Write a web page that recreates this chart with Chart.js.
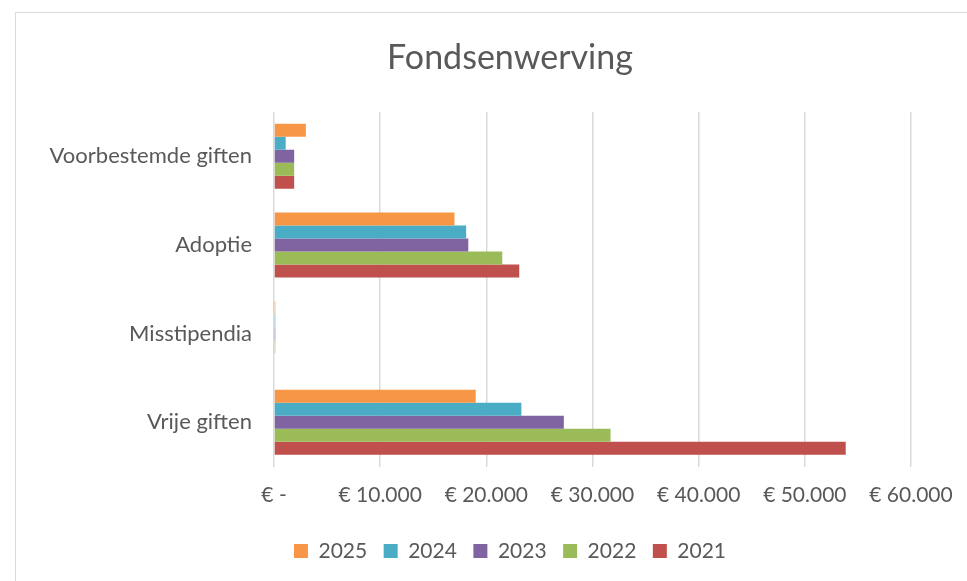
<!DOCTYPE html>
<html>
<head>
<meta charset="utf-8">
<script src="https://cdn.jsdelivr.net/npm/chart.js@4"></script>
<style>
  html, body { margin: 0; padding: 0; background: #fff; overflow: hidden; }
  #frame { position: absolute; left: 15px; top: 12px; width: 1100px; height: 700px; border: 1px solid #d9d9d9; }
  #wrap { position: absolute; left: 0; top: 0; width: 1000px; height: 581px; }
</style>
</head>
<body>
<div id="frame"></div>
<div id="wrap"><canvas id="myChart"></canvas></div>
<script>
// categories (top to bottom)
var categories = ['Voorbestemde giften', 'Adoptie', 'Misstipendia', 'Vrije giften'];

// values per year, same order as categories
var years = ['2025', '2024', '2023', '2022', '2021'];
var values2025 = [3000, 17000, 120, 19000];
var values2024 = [1100, 18100, 120, 23300];
var values2023 = [1900, 18300, 120, 27300];
var values2022 = [1900, 21500, 120, 31700];
var values2021 = [1900, 23100, 0, 53850];

var colors = ['#F79646', '#4BACC6', '#8064A2', '#9BBB59', '#C0504D'];
var seriesValues = [values2025, values2024, values2023, values2022, values2021];

var xTicks = [0, 10000, 20000, 30000, 40000, 50000, 60000];

function euro(v) {
    if (v === 0) return '€ -';
    return '€ ' + String(v).replace(/\B(?=(\d{3})+(?!\d))/g, '.');
}

var font = "Lato, 'Noto Sans', sans-serif";
var textColor = '#595959';

var ctx = document.getElementById('myChart').getContext('2d');

var myChart = new Chart(ctx, {
    type: 'bar',
    data: {
        labels: categories,
        datasets: years.map(function (y, i) {
            return {
                label: y,
                data: seriesValues[i],
                backgroundColor: colors[i],
                borderWidth: 0,
                categoryPercentage: 0.733,
                barPercentage: 1
            };
        })
    },
    options: {
        indexAxis: 'y',
        responsive: true,
        maintainAspectRatio: false,
        animation: false,
        layout: { padding: { top: 37.6, left: 20, right: 0, bottom: 9.4 } },
        plugins: {
            title: {
                display: true,
                text: 'Fondsenwerving',
                color: textColor,
                font: { family: font, size: 34, weight: 'normal' },
                padding: { top: 0, bottom: 33.6 }
            },
            legend: {
                position: 'bottom',
                labels: {
                    color: textColor,
                    font: { family: font, size: 21 },
                    boxWidth: 14,
                    boxHeight: 14,
                    padding: 16.5
                }
            },
            tooltip: { enabled: false }
        },
        scales: {
            x: {
                min: 0,
                max: 60000,
                afterBuildTicks: function (s) {
                    s.ticks = xTicks.map(function (v) { return { value: v }; });
                },
                afterFit: function (s) {
                    s.height = 57.4;
                    s.paddingRight = 89;
                },
                grid: { color: '#d9d9d9', lineWidth: 1.5, drawTicks: false },
                border: { display: false },
                ticks: {
                    color: textColor,
                    font: { family: font, size: 21 },
                    padding: 16.4,
                    maxRotation: 0,
                    callback: function (v) { return euro(v); }
                }
            },
            y: {
                afterFit: function (s) { s.width = 254; },
                grid: { display: false, drawTicks: false },
                border: { display: false },
                ticks: {
                    color: textColor,
                    font: { family: font, size: 22 },
                    padding: 22
                }
            }
        }
    }
});
</script>
</body>
</html>
